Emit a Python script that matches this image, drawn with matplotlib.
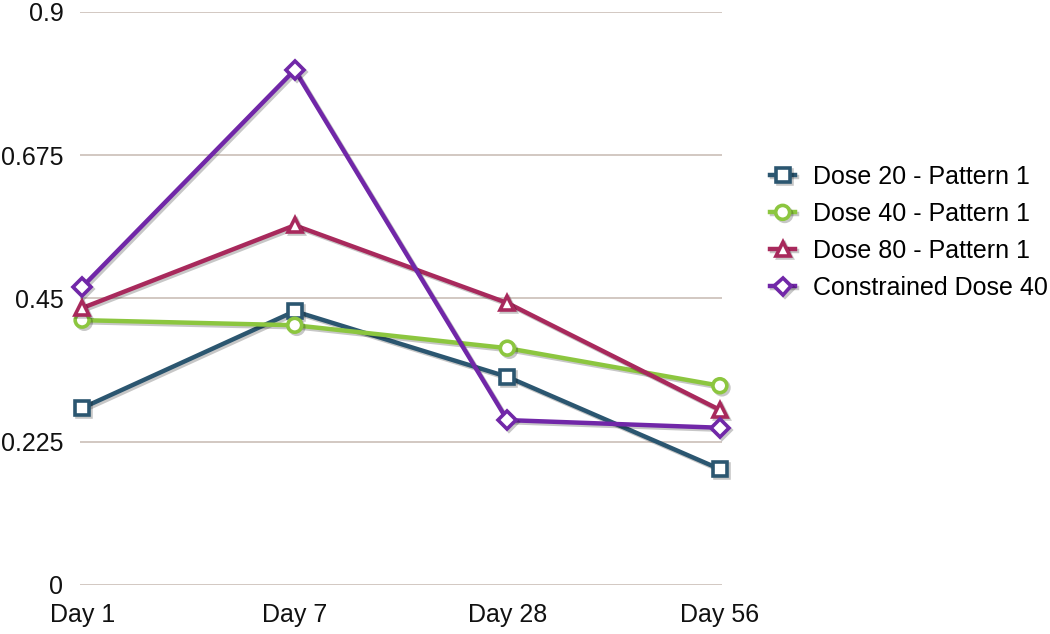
import matplotlib
matplotlib.use("Agg")
import matplotlib.pyplot as plt
import matplotlib.patheffects as pe

plt.rcParams['font.family'] = ['Liberation Sans', 'DejaVu Sans']

days = ["Day 1", "Day 7", "Day 28", "Day 56"]
dose20 = [0.278, 0.430, 0.327, 0.182]
dose40 = [0.416, 0.408, 0.372, 0.313]
dose80 = [0.435, 0.565, 0.443, 0.275]
constrained = [0.468, 0.809, 0.259, 0.247]
yticks = [0, 0.225, 0.45, 0.675, 0.9]
ytick_labels = ["0", "0.225", "0.45", "0.675", "0.9"]

series = [
    ("Dose 20 - Pattern 1", dose20, "#2b5670", "s"),
    ("Dose 40 - Pattern 1", dose40, "#8cc63f", "o"),
    ("Dose 80 - Pattern 1", dose80, "#a8295c", "^"),
    ("Constrained Dose 40", constrained, "#7127a8", "D"),
]

fig = plt.figure(figsize=(10.5, 6.34), dpi=100)
ax = fig.add_axes([80/1050, 1 - 585/634, (722-80)/1050, (585-12)/634])

x = list(range(len(days)))
shadow = [pe.SimpleLineShadow(offset=(1.5, -1.5), shadow_color='black', alpha=0.22), pe.Normal()]
for label, vals, color, m in series:
    ms = 10 if m != "D" else 9
    ax.plot(x, vals, color=color, lw=3.2, marker=m, markersize=ms,
            markerfacecolor='white', markeredgecolor=color, markeredgewidth=2.6,
            label=label, path_effects=shadow, zorder=3, clip_on=False)

ax.set_xlim(-0.01, 3.01)
ax.set_ylim(0, 0.9)
ax.set_yticks(yticks)
ax.set_yticklabels(ytick_labels)
ax.set_xticks(x)
ax.set_xticklabels(days)
ax.yaxis.grid(True, color='#cbbfb8', lw=1.2)
ax.set_axisbelow(True)
for s in ax.spines.values():
    s.set_visible(False)
ax.tick_params(axis='both', length=0, labelsize=18, colors='#111111')
ax.tick_params(axis='y', pad=12)
ax.tick_params(axis='x', pad=13)

leg = ax.legend(loc='center left', bbox_to_anchor=(1.075, 0.615), frameon=False,
                fontsize=18, handlelength=1.0, handletextpad=0.7, labelspacing=0.52,
                borderaxespad=0, borderpad=0)

fig.savefig("out.png", dpi=100)
